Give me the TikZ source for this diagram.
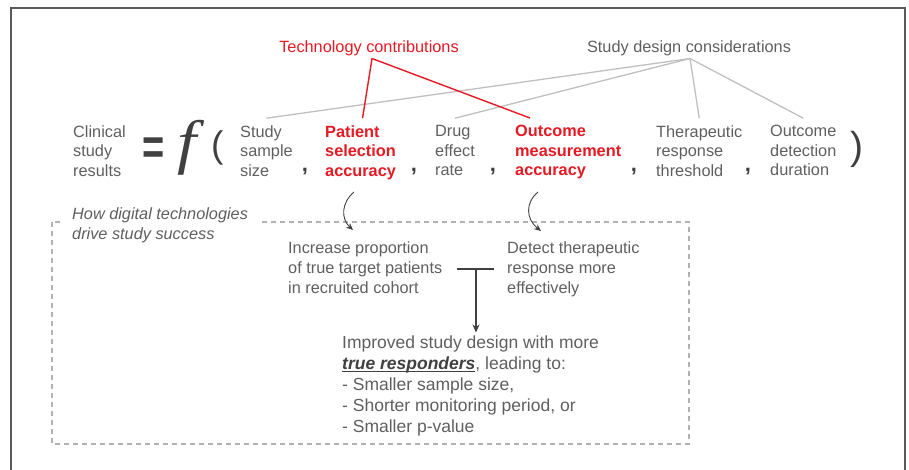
\documentclass[tikz,border=0pt]{standalone}
\usepackage{fontspec}
\newfontfamily\arial{Liberation Sans}
\newfontfamily\tserif{Liberation Serif}
\usetikzlibrary{arrows.meta,calc}
\definecolor{tgray}{RGB}{95,95,95}
\definecolor{dgray}{RGB}{64,64,64}
\definecolor{lgray}{RGB}{192,192,192}
\definecolor{bgray}{RGB}{178,178,178}
\definecolor{fgray}{RGB}{90,90,90}
\definecolor{tred}{RGB}{230,25,35}
\newcommand\myul[1]{\setbox0\hbox{#1}\rlap{\rule[-2.6pt]{\wd0}{1.3pt}}\box0}
\begin{document}
\begin{tikzpicture}[x=1pt,y=-1pt,
  lab/.style={font=\arial\fontsize{16.3}{19.5}\selectfont, text=tgray, align=left, anchor=north west, inner sep=0pt},
  redlab/.style={lab, text=tred, font=\arial\bfseries\fontsize{16.3}{19.5}\selectfont},
  mid/.style={lab, font=\arial\fontsize{16.3}{20}\selectfont},
  big/.style={lab, font=\arial\fontsize{17.5}{21}\selectfont},
  head/.style={font=\arial\fontsize{16.3}{19.5}\selectfont, anchor=base, inner sep=0pt},
  commasty/.style={font=\arial\bfseries\fontsize{22}{22}\selectfont, text=dgray, anchor=base, inner sep=0pt},
  gline/.style={lgray, line width=1.3pt},
  rline/.style={tred, line width=1.4pt},
  carrow/.style={dgray, line width=0.9pt, -{Stealth[length=7pt,width=6pt]}},
  tline/.style={dgray, line width=1.4pt}
]
\useasboundingbox (0,0) rectangle (909,469);
% outer frame
\draw[fgray, line width=2pt] (11,475) -- (11,7.5) -- (905,7.5) -- (905,475);
% dashed box
\draw[bgray, line width=1.3pt, dash pattern=on 5pt off 4pt] (52,222) rectangle (689,444);
\node[lab, font=\arial\itshape\fontsize{16.3}{20}\selectfont, fill=white, inner xsep=11pt, inner ysep=3pt] (how) at (61,204.5) {How digital technologies\\drive study success};

% headers
\node[head, text=tred] (tc) at (369,52.5) {Technology contributions};
\node[head, text=tgray] (sdc) at (689,52.5) {Study design considerations};
\coordinate (tcb) at (372,58.5);
\coordinate (sdb) at (690,58.5);

% equation row
\node[lab] (csr) at (73,125.2) {Clinical\\study\\results};
\node[anchor=base west, inner sep=0pt, text=dgray, font=\arial\bfseries\fontsize{38}{38}\selectfont] (eq) at (142,164) {\scalebox{1}[1.35]{=}};
\node[anchor=base west, inner sep=0pt, text=dgray, font=\tserif\itshape\fontsize{60}{60}\selectfont] (fn) at (177,162.7) {\scalebox{1.15}[1]{f}};
\node[anchor=base west, inner sep=0pt, text=dgray, font=\arial\fontsize{37}{37}\selectfont] (lp) at (211,157.5) {(};
\node[lab] (ss) at (240,125.2) {Study\\sample\\size};
\node[commasty] (c1) at (305,171.5) {,};
\node[redlab] (psa) at (325,125.2) {Patient\\selection\\accuracy};
\node[commasty] (c2) at (414,171.5) {,};
\node[lab] (der) at (435,125.2) {Drug\\effect\\rate};
\node[commasty] (c3) at (493,171.5) {,};
\node[redlab] (oma) at (515,125.2) {Outcome\\measurement\\accuracy};
\node[commasty] (c4) at (634,171.5) {,};
\node[lab] (trt) at (656,125.2) {Therapeutic\\response\\threshold};
\node[commasty] (c5) at (748,171.5) {,};
\node[lab] (odd) at (770,125.2) {Outcome\\detection\\duration};
\node[anchor=base west, inner sep=0pt, text=dgray, font=\arial\fontsize{39}{39}\selectfont] (rp) at (850,159.5) {)};

% connectors from headers
\coordinate (omaT) at (530,118);
\draw[gline] (sdb) -- ($(ss.north)+(0,-7)$);
\draw[gline] (sdb) -- ($(der.north)+(0,-7)$);
\draw[gline] (sdb) -- ($(trt.north)+(0,-7)$);
\draw[gline] (sdb) -- ($(odd.north)+(0,-7)$);
\draw[rline] (tcb) -- ($(psa.north)+(2,-7)$);
\draw[rline] (tcb) -- (omaT);

% middle texts
\node[mid] (inc) at (288,241) {Increase proportion\\of true target patients\\in recruited cohort};
\node[mid] (det) at (507,241) {Detect therapeutic\\response more\\effectively};
\coordinate (a1s) at (354,192);
\coordinate (a1e) at (353,230);
\coordinate (a2s) at (538,192);
\coordinate (a2e) at (541,231);
\draw[carrow] (a1s) .. controls (341,203) and (341,219) .. (a1e);
\draw[carrow] (a2s) .. controls (525,203) and (526,219) .. (a2e);

% T connector
\coordinate (tl) at (457,269);
\coordinate (tr) at (494,269);
\coordinate (tm) at (476,269);
\draw[tline] (tl) -- (tr);

% bottom text
\node[big] (imp) at (342,335.5) {Improved study design with more\\{\color{dgray}\myul{\bfseries\itshape true responders}}, leading to:\\- Smaller sample size,\\- Shorter monitoring period, or\\- Smaller p-value};
\draw[tline, -{Stealth[length=8pt,width=7pt]}, shorten >=3pt] (tm) -- (tm |- imp.north);
\end{tikzpicture}
\end{document}
